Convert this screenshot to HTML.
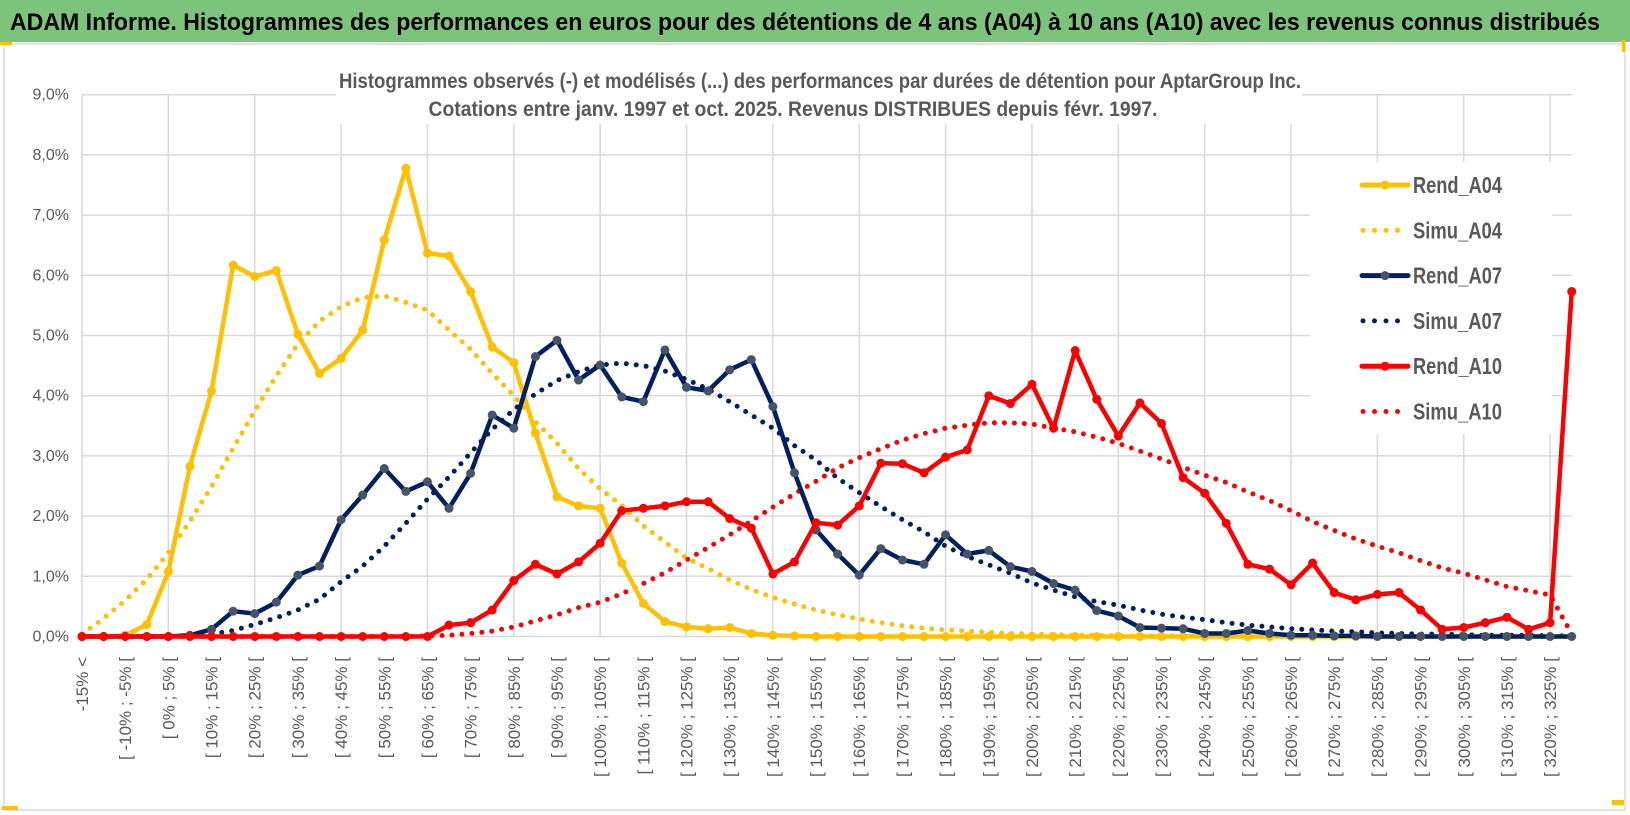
<!DOCTYPE html>
<html><head><meta charset="utf-8"><style>
html,body{margin:0;padding:0;background:#fff;}
svg{display:block;font-family:"Liberation Sans Narrow","Liberation Sans",sans-serif;}
</style></head><body>
<svg id="chart" width="1630" height="815" viewBox="0 0 1630 815" xmlns="http://www.w3.org/2000/svg">
<rect x="0" y="0" width="1630" height="815" fill="#fff"/>
<rect x="0" y="0" width="1630" height="42" fill="#7CC47C"/>
<text x="10" y="30" font-size="24" font-weight="bold" fill="#000" textLength="1590" lengthAdjust="spacingAndGlyphs">ADAM Informe. Histogrammes des performances en euros pour des détentions de 4 ans (A04) à 10 ans (A10) avec les revenus connus distribués</text>
<rect x="4" y="44" width="1621" height="766" fill="none" stroke="#d9d9d9" stroke-width="1.5"/>
<rect x="0" y="42" width="12" height="3" fill="#FFC000"/>
<rect x="2" y="806" width="16" height="4" fill="#FFC000"/>
<rect x="1622" y="40" width="3" height="12" fill="#FFC000"/>
<rect x="1612" y="800" width="12" height="5" fill="#FFC000"/>
<g id="grid"></g>
<g id="yaxis"></g>
<g id="xaxis"></g>
<rect x="1310" y="162" width="242" height="272" fill="#fff"/>
<rect x="336" y="64" width="966" height="60" fill="#fff"/>
<text x="820" y="88" text-anchor="middle" font-size="21" font-weight="bold" fill="#595959" textLength="962" lengthAdjust="spacingAndGlyphs">Histogrammes observés (-) et modélisés (...) des performances par durées de détention pour AptarGroup Inc.</text>
<text x="793" y="116" text-anchor="middle" font-size="21" font-weight="bold" fill="#595959" textLength="729" lengthAdjust="spacingAndGlyphs">Cotations entre janv. 1997 et oct. 2025. Revenus DISTRIBUES depuis févr. 1997.</text>
<g id="series"></g>
<g id="legend"></g>
</svg>
<script>
const categoryCount = 70;
const yTicks = [0,1,2,3,4,5,6,7,8,9];
const rendA04 = [0,0,0.02,0.20,1.08,2.83,4.08,6.17,5.98,6.08,5.02,4.37,4.62,5.09,6.59,7.78,6.37,6.32,5.73,4.81,4.55,3.38,2.32,2.17,2.13,1.22,0.55,0.25,0.16,0.13,0.15,0.05,0.02,0.01,0,0,0,0,0,0,0,0,0,0,0,0,0,0,0,0,0,0,0,0,0,0,0,0,0,0,0,0,0,0,0,0,0,0,0,0];
const simuA04 = [0.04,0.30,0.60,0.95,1.39,1.92,2.49,3.13,3.75,4.33,4.86,5.24,5.48,5.63,5.66,5.55,5.42,5.09,4.77,4.37,4.00,3.57,3.21,2.79,2.45,2.18,1.84,1.57,1.30,1.13,0.94,0.78,0.65,0.54,0.44,0.36,0.29,0.23,0.18,0.14,0.11,0.09,0.07,0.05,0.04,0.03,0.02,0.02,0.01,0.01,0.01,0.01,0.01,0,0,0,0,0,0,0,0,0,0,0,0,0,0,0,0,0];
const rendA07 = [0,0,0,0,0,0.02,0.12,0.42,0.38,0.57,1.02,1.17,1.94,2.35,2.79,2.41,2.57,2.13,2.71,3.68,3.46,4.65,4.92,4.26,4.51,3.98,3.90,4.76,4.14,4.08,4.43,4.60,3.82,2.72,1.77,1.37,1.02,1.46,1.27,1.20,1.69,1.37,1.43,1.16,1.08,0.88,0.77,0.43,0.34,0.15,0.14,0.13,0.05,0.05,0.10,0.05,0.02,0.02,0.01,0.01,0,0,0,0,0,0,0,0,0,0];
const simuA07 = [0,0,0,0,0,0.02,0.04,0.10,0.20,0.31,0.44,0.62,0.91,1.17,1.50,1.88,2.28,2.65,3.05,3.44,3.77,4.03,4.25,4.40,4.51,4.54,4.50,4.41,4.27,4.11,3.90,3.68,3.46,3.17,2.93,2.63,2.39,2.16,1.94,1.74,1.50,1.33,1.19,1.05,0.89,0.77,0.66,0.58,0.52,0.44,0.37,0.32,0.28,0.23,0.19,0.16,0.13,0.11,0.09,0.08,0.06,0.05,0.04,0.04,0.03,0.02,0.02,0.02,0.01,0.01];
const rendA10 = [0,0,0,0,0,0,0,0,0,0,0,0,0,0,0,0,0,0.19,0.23,0.44,0.93,1.20,1.04,1.24,1.55,2.09,2.13,2.17,2.24,2.24,1.96,1.80,1.04,1.24,1.89,1.85,2.17,2.88,2.87,2.72,2.98,3.10,4.00,3.87,4.19,3.46,4.75,3.94,3.33,3.88,3.54,2.64,2.38,1.88,1.20,1.12,0.86,1.22,0.73,0.61,0.70,0.73,0.44,0.12,0.15,0.23,0.32,0.12,0.23,5.73];
const simuA10 = [0,0,0,0,0,0,0,0,0,0,0,0,0,0,0,0,0.01,0.02,0.05,0.09,0.16,0.26,0.36,0.48,0.57,0.71,0.88,1.06,1.27,1.48,1.69,1.92,2.15,2.37,2.58,2.80,2.97,3.12,3.26,3.37,3.46,3.51,3.55,3.55,3.53,3.46,3.40,3.31,3.21,3.08,2.95,2.81,2.68,2.56,2.40,2.26,2.09,1.91,1.76,1.62,1.50,1.39,1.26,1.14,1.05,0.94,0.83,0.76,0.69,0.04];

const NS = "http://www.w3.org/2000/svg";
const X0 = 82, X1 = 1571.7, Y0 = 636.5, YPER = 60.2;
function xPos(i){ return X0 + i*(X1-X0)/(categoryCount-1); }
function yPos(v){ return Y0 - v*YPER; }
function mk(tag, attrs, parent){ const e=document.createElementNS(NS,tag); for(const k in attrs) e.setAttribute(k,attrs[k]); parent.appendChild(e); return e; }
function catLabel(i){
  if(i===0) return "-15% <";
  const lo = -15 + 5*(i-1);
  return "[ " + lo + "% ; " + (lo+5) + "% [";
}
const grid = document.getElementById('grid');
yTicks.forEach(t=>{
  const l = mk('line',{x1:X0,x2:X1,y1:yPos(t),y2:yPos(t),stroke:'#d9d9d9','stroke-width':1.5},grid);
  
  
});
for(let i=0;i<categoryCount;i+=4){
  const l = mk('line',{x1:xPos(i),x2:xPos(i),y1:yPos(9),y2:Y0,stroke:'#d9d9d9','stroke-width':1.5},grid);
  
  
}
const yaxis = document.getElementById('yaxis');
yTicks.forEach(t=>{
  const tx = mk('text',{x:69,y:yPos(t)+5,'text-anchor':'end','font-size':16,fill:'#595959'},yaxis);
  tx.textContent = t.toFixed(1).replace('.',',') + '%';
  
  
});
const xaxis = document.getElementById('xaxis');
for(let i=0;i<categoryCount-1;i+=2){
  const x = xPos(i)+6;
  const tx = mk('text',{x:x,y:657,'text-anchor':'end','font-size':17,fill:'#595959','font-family':'Liberation Sans, sans-serif',transform:'rotate(-90 '+x+' 657)'},xaxis);
  tx.textContent = catLabel(i);
  
  
}
const series = document.getElementById('series');
function dotted(vals,color,name){
  const pts = vals.map((v,i)=>xPos(i).toFixed(1)+','+yPos(v).toFixed(1)).join(' ');
  const p = mk('polyline',{points:pts,fill:'none',stroke:color,'stroke-width':5,'stroke-linecap':'round','stroke-dasharray':'0 10'},series);
  
  
}
function solid(vals,color,mcolor,name){
  const g = mk('g',{},series);
  
  
  const pts = vals.map((v,i)=>xPos(i).toFixed(1)+','+yPos(v).toFixed(1)).join(' ');
  mk('polyline',{points:pts,fill:'none',stroke:color,'stroke-width':4.5,'stroke-linejoin':'round'},g);
  vals.forEach((v,i)=>{
    const c = mk('circle',{cx:xPos(i),cy:yPos(v),r:4.5,fill:mcolor},g);
    
    
  });
}
dotted(simuA04,'#FFC000','simu-a04-line');
dotted(simuA07,'#002060','simu-a07-line');
dotted(simuA10,'#FF0000','simu-a10-line');
solid(rendA04,'#FFC000','#FFC000','rend-a04-line');
solid(rendA07,'#002060','#44546A','rend-a07-line');
solid(rendA10,'#FF0000','#FF0000','rend-a10-line');

const legendNames = ['Rend_A04','Simu_A04','Rend_A07','Simu_A07','Rend_A10','Simu_A10'];
const legendColors = ['#FFC000','#FFC000','#002060','#002060','#FF0000','#FF0000'];
const legend = document.getElementById('legend');
legendNames.forEach((n,k)=>{
  const y = 185 + k*45.3;
  const g = mk('g',{},legend);
  
  
  if(n.startsWith('Rend')){
    mk('line',{x1:1362,x2:1408,y1:y,y2:y,stroke:legendColors[k],'stroke-width':5,'stroke-linecap':'round'},g);
    mk('circle',{cx:1385,cy:y,r:4.5,fill:k===2?'#44546A':legendColors[k]},g);
  } else {
    mk('line',{x1:1363,x2:1400,y1:y,y2:y,stroke:legendColors[k],'stroke-width':5,'stroke-linecap':'round','stroke-dasharray':'0 11.5'},g);
  }
  const t = mk('text',{x:1413,y:y+8,'font-size':23,'font-weight':'bold',fill:'#595959',textLength:89,lengthAdjust:'spacingAndGlyphs'},g);
  t.textContent = n;
});
</script>
</body></html>
